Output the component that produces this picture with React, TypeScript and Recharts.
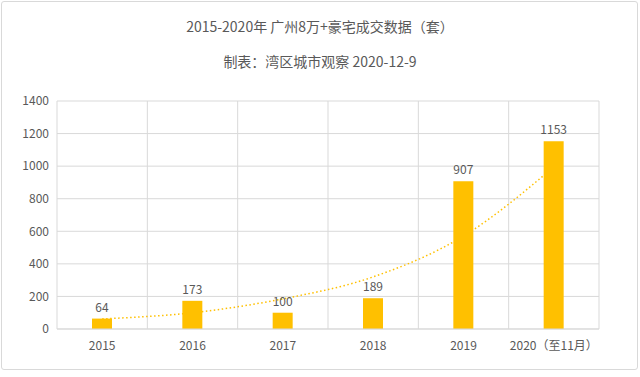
import React from 'react';
import { ComposedChart, Bar, Line, XAxis, YAxis, CartesianGrid, LabelList } from 'recharts';

const years = ['2015', '2016', '2017', '2018', '2019', '2020（至11月）'];
const sales = [64, 173, 100, 189, 907, 1153];
// dotted trend line at each category
const trend = [62, 100, 185, 320, 571, 995];
const yTicks = [0, 200, 400, 600, 800, 1000, 1200, 1400];

const data = years.map((y, i) => ({ year: y, sales: sales[i], trend: trend[i] }));

const font = '"Noto Sans CJK SC", "Microsoft YaHei", sans-serif';
const textColor = '#595959';

// grid lines sit on category boundaries, not on tick centres
const boundaryLines = ({ offset }: any) => {
  const out: number[] = [];
  for (let i = 0; i <= years.length; i++) {
    out.push(offset.left + (offset.width * i) / years.length);
  }
  return out;
};

export default function App() {
  return (
    <div style={{ position: 'absolute', left: 0, top: 0, width: 640, height: 377, background: '#fff', fontFamily: font }}>
      <div style={{ position: 'absolute', left: 1, top: 1, width: 635, height: 367, border: '1px solid #d9d9d9', borderRadius: 3 }} />
      <div style={{ position: 'absolute', left: 0, width: 640, top: 16, textAlign: 'center', fontSize: 14, color: textColor }}>
        2015-2020年 广州8万+豪宅成交数据（套）
      </div>
      <div style={{ position: 'absolute', left: 0, width: 640, top: 51, textAlign: 'center', fontSize: 14, color: textColor }}>
        制表：湾区城市观察 2020-12-9
      </div>
      <ComposedChart
        width={640}
        height={377}
        data={data}
        margin={{ top: 101, right: 41, bottom: 18, left: 7 }}
        style={{ position: 'absolute', left: 0, top: 0 }}
      >
        <CartesianGrid stroke="#d9d9d9" verticalCoordinatesGenerator={boundaryLines} />
        <XAxis
          dataKey="year"
          axisLine={{ stroke: '#d9d9d9' }}
          tickLine={false}
          height={30}
          tick={{ fill: textColor, fontSize: 12, fontFamily: font }}
          tickMargin={6}
        />
        <YAxis
          width={50}
          domain={[0, 1400]}
          ticks={yTicks}
          axisLine={false}
          tickLine={false}
          tick={{ fill: textColor, fontSize: 12, fontFamily: font }}
          tickMargin={2}
        />
        <Bar dataKey="sales" fill="#FFC000" barSize={20} isAnimationActive={false}>
          <LabelList dataKey="sales" position="top" offset={7} fill={textColor} fontSize={12} fontFamily={font} />
        </Bar>
        <Line
          dataKey="trend"
          type="monotone"
          stroke="#FFC000"
          strokeWidth={1.5}
          strokeDasharray="1.5 2.5"
          dot={false}
          activeDot={false}
          isAnimationActive={false}
        />
      </ComposedChart>
    </div>
  );
}
